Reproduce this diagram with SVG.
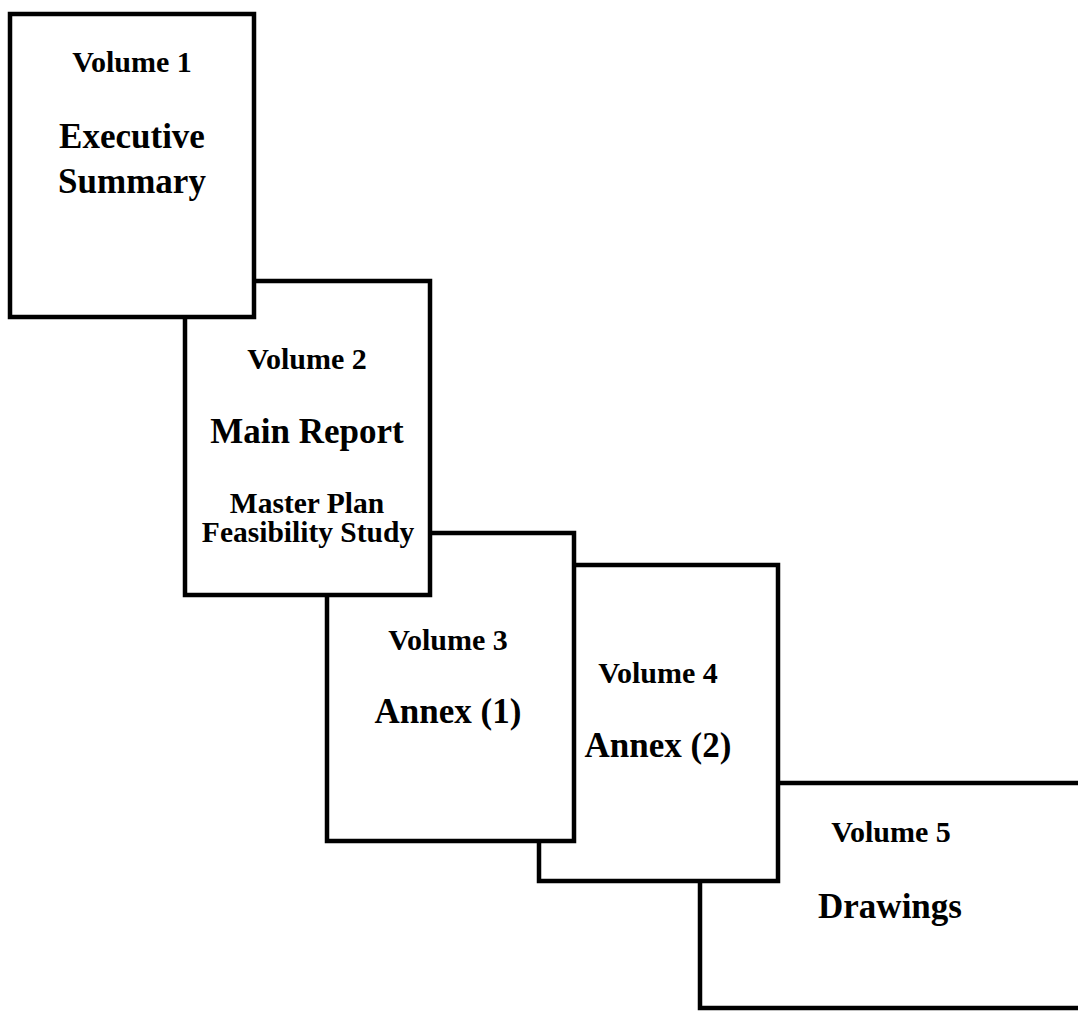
<svg xmlns="http://www.w3.org/2000/svg" width="1078" height="1014" viewBox="0 0 1078 1014">
<style>
.box{fill:#fff;stroke:#000;stroke-width:4.5}
text{font-family:"Liberation Serif","Times New Roman",serif;font-weight:bold;fill:#000;text-anchor:middle}
.vol{font-size:30px}
.ttl{font-size:35px}
.sub{font-size:29.5px}
</style>
<rect width="1078" height="1014" fill="#fff"/>
<g id="connectors"></g>
<g id="volume5">
<rect class="box" x="700" y="783" width="390" height="225"/>
<text class="vol" x="891" y="842">Volume 5</text>
<text class="ttl" x="890" y="918">Drawings</text>
</g>
<g id="volume4">
<rect class="box" x="539" y="565" width="239" height="316"/>
<text class="vol" x="658" y="683">Volume 4</text>
<text class="ttl" x="658" y="757">Annex (2)</text>
</g>
<g id="volume3">
<rect class="box" x="327" y="533" width="247" height="308"/>
<text class="vol" x="448" y="650">Volume 3</text>
<text class="ttl" x="448" y="723">Annex (1)</text>
</g>
<g id="volume2">
<rect class="box" x="185" y="281" width="245" height="314"/>
<text class="vol" x="307" y="369">Volume 2</text>
<text class="ttl" x="307" y="443">Main Report</text>
<text class="sub" x="307" y="513">Master Plan</text>
<text class="sub" x="308" y="542">Feasibility Study</text>
</g>
<g id="volume1">
<rect class="box" x="10" y="14" width="244" height="303"/>
<text class="vol" x="132" y="72">Volume 1</text>
<text class="ttl" x="132" y="148">Executive</text>
<text class="ttl" x="132" y="193">Summary</text>
</g>
</svg>
